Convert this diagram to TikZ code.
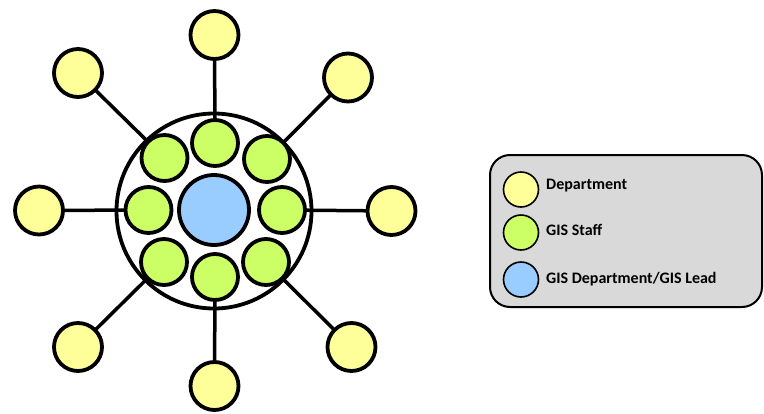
\documentclass[tikz,border=0pt]{standalone}
\usepackage{fontspec}
\setmainfont{Carlito}
\definecolor{dept}{HTML}{FFFF99}
\definecolor{staff}{HTML}{CCFF66}
\definecolor{lead}{HTML}{99CCFF}
\definecolor{legendbg}{HTML}{D9D9D9}
\begin{document}
\begin{tikzpicture}[x=1pt,y=-1pt,
  ball/.style={circle,draw=black,line width=3.8pt,inner sep=0pt,outer sep=0pt},
  deptnode/.style={ball,fill=dept,minimum size=48pt},
  staffnode/.style={ball,fill=staff,minimum size=46pt},
  leadnode/.style={ball,fill=lead,minimum size=70pt},
  ring/.style={circle,draw=black,line width=3.8pt,inner sep=0pt,outer sep=0pt,minimum size=195pt},
  link/.style={draw=black,line width=3.5pt},
  legball/.style={circle,draw=black,line width=1.6pt,inner sep=0pt,minimum size=35pt},
  legtext/.style={anchor=base west,inner sep=0pt,font=\fontsize{16}{19}\selectfont\bfseries}
]
\useasboundingbox (0,0) rectangle (764,413);
% outer ring
\node[ring] (ring) at (214,211) {};
% central lead
\node[leadnode] (lead) at (214,210) {};
% staff circles
\node[staffnode] (sN)  at (215,143) {};
\node[staffnode] (sNE) at (267,159) {};
\node[staffnode] (sE)  at (282,210) {};
\node[staffnode] (sSE) at (266,262) {};
\node[staffnode] (sS)  at (215,277) {};
\node[staffnode] (sSW) at (164,262) {};
\node[staffnode] (sW)  at (148.5,210) {};
\node[staffnode] (sNW) at (164.5,158) {};
% departments
\node[deptnode] (dN)  at (214.5,35) {};
\node[deptnode] (dNE) at (348,77.5) {};
\node[deptnode] (dE)  at (391.5,211) {};
\node[deptnode] (dSE) at (351.5,347) {};
\node[deptnode] (dS)  at (214.5,386) {};
\node[deptnode] (dSW) at (78,347) {};
\node[deptnode] (dW)  at (39,210.5) {};
\node[deptnode] (dNW) at (78,73) {};
% links
\draw[link] (dN) -- (sN);
\draw[link] (dNE) -- (sNE);
\draw[link] (dE) -- (sE);
\draw[link] (dSE) -- (sSE);
\draw[link] (dS) -- (sS);
\draw[link] (dSW) -- (sSW);
\draw[link] (dW) -- (sW);
\draw[link] (dNW) -- (sNW);
% legend
\node[draw=black,line width=2pt,fill=legendbg,rounded corners=20pt,minimum width=272pt,minimum height=152pt,inner sep=0pt] (legend) at (626,231) {};
\node[legball,fill=dept] (lg1) at (521,189.5) {};
\node[legball,fill=staff] (lg2) at (521,232.5) {};
\node[legball,fill=lead] (lg3) at (521,279.5) {};
\node[legtext] (t1) at (546,189) {Department};
\node[legtext] (t2) at (546,235) {GIS Staff};
\node[legtext] (t3) at (546,283) {GIS Department/GIS Lead};
\end{tikzpicture}
\end{document}
